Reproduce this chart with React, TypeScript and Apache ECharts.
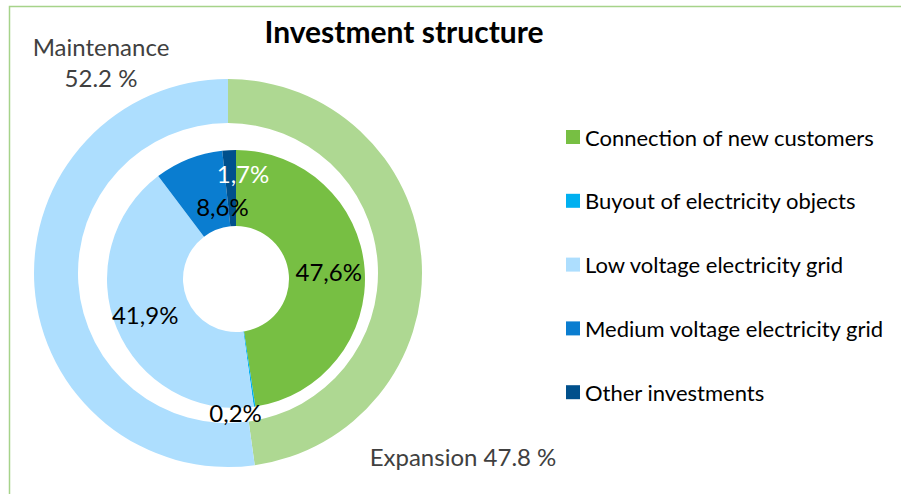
import React, { useEffect, useRef } from "react";
import * as echarts from "echarts";

const innerCategories = [
  "Connection of new customers",
  "Buyout of electricity objects",
  "Low voltage electricity grid",
  "Medium voltage electricity grid",
  "Other investments",
];
const innerValues = [47.6, 0.2, 41.9, 8.6, 1.7];
const innerColors = ["#77BF43", "#00B0F0", "#ADDEFE", "#0A7DD0", "#00508C"];
const innerLabelColors = ["#000", "#000", "#000", "#000", "#fff"];

const outerCategories = ["Expansion", "Maintenance"];
const outerValues = [47.8, 52.2];
const outerColors = ["#AED892", "#ADDEFE"];

// label nudges (layout only)
const innerLabelShift = [
  [-1, 0],
  [-14, 40],
  [-4, 0],
  [21, 15],
  [12, -12],
];
const outerLabelPos = [
  [463, 456],
  [101, 62],
];

const FONT = "Lato, 'Open Sans', sans-serif";

export default function App() {
  const ref = useRef<HTMLDivElement>(null);
  useEffect(() => {
    document.body.style.margin = "0";
    const chart = echarts.init(ref.current!, null, { renderer: "svg" });
    chart.setOption({
      animation: false,
      backgroundColor: "#fff",
      title: {
        text: "Investment structure",
        left: 399,
        top: 11,
        textAlign: "center",
        textStyle: { fontFamily: FONT, fontWeight: "bold", fontSize: 30, color: "#000" },
      },
      legend: {
        orient: "vertical",
        left: 566,
        top: 126,
        padding: 0,
        icon: "rect",
        itemWidth: 14,
        itemHeight: 14,
        itemGap: 41.8,
        data: innerCategories,
        textStyle: { fontFamily: FONT, fontSize: 22, color: "#000" },
      },
      graphic: [
        {
          type: "rect",
          shape: { x: 9.5, y: 6.5, width: 1200, height: 1200 },
          style: { fill: "none", stroke: "#A6D38A", lineWidth: 1.5 },
          silent: true,
        },
      ],
      series: [
        {
          type: "pie",
          name: "outer",
          center: [228, 273],
          radius: [150, 194],
          startAngle: 90,
          clockwise: true,
          silent: true,
          avoidLabelOverlap: false,
          data: outerCategories.map((n, i) => ({
            name: n,
            value: outerValues[i],
            itemStyle: { color: outerColors[i] },
          })),
          label: {
            show: true,
            position: "inside",
            fontFamily: FONT,
            fontSize: 24,
            color: "#404040",
            lineHeight: 31,
            align: "center",
            formatter: (p: any) =>
              p.dataIndex === 1
                ? `${p.name}\n${p.value.toFixed(1)} %`
                : `${p.name} ${p.value.toFixed(1)} %`,
          },
          labelLine: { show: false },
          labelLayout: (p: any) => ({
            x: outerLabelPos[p.dataIndex][0],
            y: outerLabelPos[p.dataIndex][1],
            align: "center",
            verticalAlign: "middle",
            hideOverlap: false,
          }),
        },
        {
          type: "pie",
          name: "inner",
          center: [236, 279],
          radius: [53, 129],
          startAngle: 90,
          clockwise: true,
          silent: true,
          avoidLabelOverlap: false,
          data: innerCategories.map((n, i) => ({
            name: n,
            value: innerValues[i],
            itemStyle: { color: innerColors[i] },
            label: { color: innerLabelColors[i] },
          })),
          label: {
            show: true,
            position: "inside",
            fontFamily: FONT,
            fontSize: 24,
            formatter: (p: any) => p.value.toFixed(1).replace(".", ",") + "%",
          },
          labelLine: { show: false },
          labelLayout: (p: any) => ({
            dx: innerLabelShift[p.dataIndex][0],
            dy: innerLabelShift[p.dataIndex][1],
            hideOverlap: false,
          }),
        },
      ],
    });
    return () => chart.dispose();
  }, []);
  return (
    <div
      ref={ref}
      style={{ position: "absolute", left: 0, top: 0, width: 901, height: 494 }}
    />
  );
}
